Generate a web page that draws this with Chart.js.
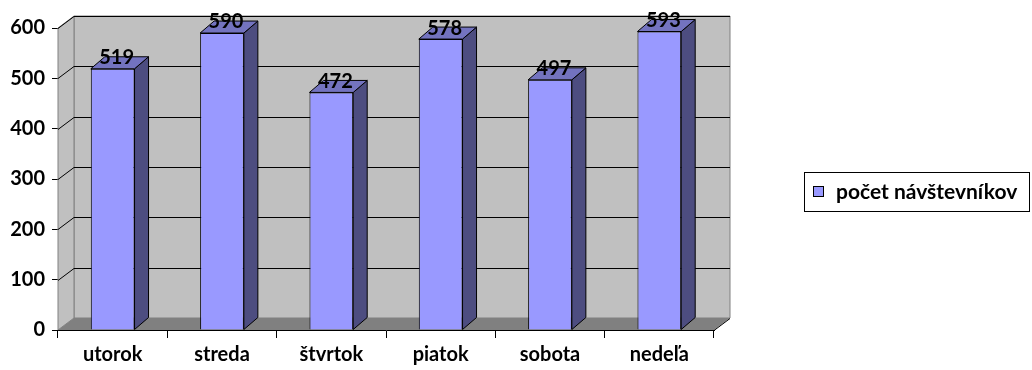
<!DOCTYPE html>
<html>
<head>
<meta charset="utf-8">
<script src="https://cdn.jsdelivr.net/npm/chart.js@4"></script>
<style>
  html, body { margin: 0; padding: 0; background: #fff; }
  canvas { display: block; }
</style>
</head>
<body>
<canvas id="chart" width="1032" height="370"></canvas>
<script>
// data
const days = ["utorok", "streda", "štvrtok", "piatok", "sobota", "nedeľa"];
const visitors = [519, 590, 472, 578, 497, 593];
const seriesName = "počet návštevníkov";

const FRONT = "#9999ff", SIDE = "#4d4d80", TOP = "#7373bf";
const WALL = "#c0c0c0", FLOOR = "#808080";
const WALL_DX = 16, WALL_DY = -12;   // depth of the walls
const BAR_DX = 14, BAR_DY = -12;     // depth of the columns

Chart.defaults.font.family = "Lato, 'DejaVu Sans', sans-serif";
Chart.defaults.color = "#000";

function poly(ctx, pts, fill, stroke) {
    ctx.beginPath();
    ctx.moveTo(pts[0][0], pts[0][1]);
    for (let i = 1; i < pts.length; i++) ctx.lineTo(pts[i][0], pts[i][1]);
    ctx.closePath();
    if (fill) { ctx.fillStyle = fill; ctx.fill(); }
    if (stroke) { ctx.strokeStyle = stroke; ctx.lineWidth = 1; ctx.stroke(); }
}

// ---- walls, floor and gridlines behind the columns
const walls = {
    id: "walls",
    beforeDatasetsDraw(chart) {
        const ctx = chart.ctx;
        const { left, right, top, bottom } = chart.chartArea;
        const y = chart.scales.y;
        ctx.save();
        // back wall
        poly(ctx, [[left + WALL_DX, top + WALL_DY], [right + WALL_DX, top + WALL_DY],
                   [right + WALL_DX, bottom + WALL_DY], [left + WALL_DX, bottom + WALL_DY]], WALL, FLOOR);
        // side wall
        poly(ctx, [[left, top], [left + WALL_DX, top + WALL_DY],
                   [left + WALL_DX, bottom + WALL_DY], [left, bottom]], WALL, FLOOR);
        // floor
        poly(ctx, [[left, bottom], [right, bottom],
                   [right + WALL_DX, bottom + WALL_DY], [left + WALL_DX, bottom + WALL_DY]], FLOOR, null);
        // gridlines
        ctx.strokeStyle = "#000";
        ctx.lineWidth = 1;
        y.ticks.forEach(t => {
            if (t.value == 0) return;
            const py = Math.round(y.getPixelForValue(t.value)) + 0.5;
            ctx.beginPath();
            ctx.moveTo(left, py);
            ctx.lineTo(left + WALL_DX, py + WALL_DY);
            ctx.lineTo(right + WALL_DX, py + WALL_DY);
            ctx.stroke();
        });
        // right edge of the floor
        ctx.beginPath();
        ctx.moveTo(right, bottom + 0.5);
        ctx.lineTo(right + WALL_DX, bottom + WALL_DY + 0.5);
        ctx.stroke();
        ctx.restore();
    }
};

// ---- side and top faces of the columns + value labels
const columns = {
    id: "columns",
    afterDatasetsDraw(chart) {
        const ctx = chart.ctx;
        const meta = chart.getDatasetMeta(0);
        ctx.save();
        meta.data.forEach((bar, i) => {
            const l = bar.x - bar.width / 2, r = bar.x + bar.width / 2;
            const t = bar.y, b = bar.base;
            poly(ctx, [[r, t], [r + BAR_DX, t + BAR_DY], [r + BAR_DX, b + BAR_DY], [r, b]], SIDE, "#000");
            poly(ctx, [[l, t], [l + BAR_DX, t + BAR_DY], [r + BAR_DX, t + BAR_DY], [r, t]], TOP, "#000");
        });
        ctx.fillStyle = "#000";
        ctx.font = "bold 20px Lato";
        ctx.textAlign = "center";
        ctx.textBaseline = "middle";
        meta.data.forEach((bar, i) => {
            ctx.fillText(visitors[i], bar.x + 4, bar.y - 11);
        });
        ctx.restore();
    },
    afterDraw(chart) {
        // legend box on the right
        const ctx = chart.ctx;
        ctx.save();
        ctx.strokeStyle = "#000";
        ctx.lineWidth = 1;
        ctx.strokeRect(804.5, 172.5, 225, 39);
        ctx.fillStyle = FRONT;
        ctx.fillRect(813.5, 186.5, 10, 10);
        ctx.strokeRect(813.5, 186.5, 10, 10);
        ctx.fillStyle = "#000";
        ctx.font = "bold 21px Lato";
        ctx.textBaseline = "middle";
        ctx.fillText(seriesName, 836, 192);
        ctx.restore();
    }
};

new Chart(document.getElementById("chart").getContext("2d"), {
    type: "bar",
    data: {
        labels: days,
        datasets: [{
            label: seriesName,
            data: visitors,
            backgroundColor: FRONT,
            borderColor: "#000",
            borderWidth: 1,
            barPercentage: 0.4,
            categoryPercentage: 1
        }]
    },
    options: {
        responsive: false,
        animation: false,
        devicePixelRatio: 1,
        layout: { padding: { top: 28, right: 318, left: 0, bottom: 0 } },
        plugins: {
            legend: { display: false },
            tooltip: { enabled: false }
        },
        scales: {
            x: {
                afterFit: s => { s.height = 40; },
                grid: { drawOnChartArea: false, tickLength: 8, color: "#000" },
                border: { color: "#000", width: 1 },
                ticks: { font: { size: 20, weight: "bold" }, padding: 5, color: "#000" }
            },
            y: {
                min: 0,
                max: 600,
                afterFit: s => { s.width = 58; },
                grid: { drawOnChartArea: false, tickLength: 6, color: "#000" },
                border: { color: "#000", width: 1 },
                ticks: { stepSize: 100, font: { size: 20, weight: "bold" }, padding: 7, color: "#000" }
            }
        }
    },
    plugins: [walls, columns]
});
</script>
</body>
</html>
